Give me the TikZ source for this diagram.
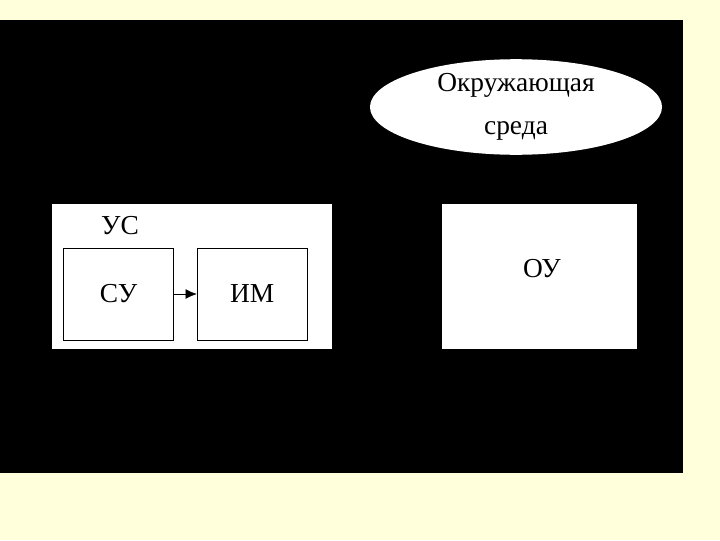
\documentclass[tikz,border=0pt]{standalone}
\usepackage{fontspec}
\setmainfont{Liberation Serif}
\usetikzlibrary{positioning, arrows.meta, shapes.geometric}
\definecolor{cream}{RGB}{255, 255, 220}

\begin{document}
\begin{tikzpicture}[
    x=0.025cm, y=-0.025cm,
    whitebox/.style={
        fill=white,
        inner sep=0pt,
        minimum height=3.625cm
    },
    unitbox/.style={
        draw=black,
        fill=white,
        minimum width=2.75cm,
        minimum height=2.3cm,
        font=\fontsize{19.5}{23}\selectfont
    },
    envbox/.style={
        ellipse,
        fill=white,
        inner sep=0pt,
        minimum width=7.3cm,
        minimum height=2.375cm,
        align=center,
        font=\fontsize{19.5}{31}\selectfont
    },
    lbl/.style={font=\fontsize{19.5}{23}\selectfont, inner sep=0pt}
]

% === Background ===
\useasboundingbox (0,0) rectangle (720,540);
\fill[cream] (0,0) rectangle (720,540);
\fill[black] (0,20) rectangle (683,473);

% === Environment ===
\node[envbox] (env) at (516,107) {Окружающая\\среда};

% === УС: control device ===
\node[whitebox, minimum width=7cm] (us) at (192,276.5) {};
\node[lbl] (uslbl) at (120,226) {УС};
\node[unitbox] (su) at (118.5,294) {СУ};
\node[unitbox, right=0.575cm of su] (im) {ИМ};

% === ОУ: controlled object ===
\node[whitebox, minimum width=4.875cm] (ou) at (539.5,276.5) {};
\node[lbl] (oulbl) at (542,269) {ОУ};

% === Arrows ===
\draw[-{Latex[length=8pt, width=7pt]}, thin] (su.east) -- (im.west);

\end{tikzpicture}
\end{document}
